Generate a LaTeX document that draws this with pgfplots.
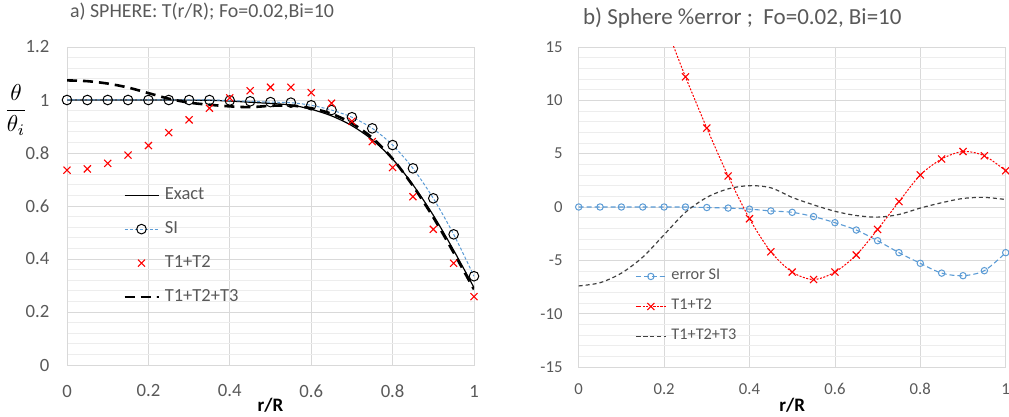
\documentclass[border=0pt]{standalone}
\usepackage{fontspec}
\setmainfont{Carlito}
\usepackage{graphicx}
\usepackage{pgfplots}
\usepackage{pgfplotstable}
\pgfplotsset{compat=1.18}

\definecolor{txtgray}{HTML}{595959}
\definecolor{majgrid}{HTML}{D9D9D9}
\definecolor{mingrid}{HTML}{EDEDED}
\definecolor{siblue}{HTML}{5B9BD5}
\definecolor{t123gray}{HTML}{404040}

% a) theta/theta_i along r/R
\pgfplotstableread{
x     exact   si     t12    t123
0.00  1.000   1.000  0.735  1.074
0.05  1.000   1.000  0.740  1.071
0.10  1.000   1.000  0.761  1.062
0.15  1.000   1.000  0.792  1.047
0.20  1.000   1.000  0.828  1.026
0.25  1.000   1.000  0.877  1.005
0.30  0.9995  1.000  0.925  0.990
0.35  0.999   1.000  0.969  0.982
0.40  0.996   0.998  1.008  0.976
0.45  0.9915  0.995  1.035  0.973
0.50  0.987   0.992  1.048  0.978
0.55  0.981   0.990  1.048  0.979
0.60  0.965   0.980  1.028  0.969
0.65  0.940   0.962  0.988  0.948
0.70  0.903   0.935  0.920  0.912
0.75  0.850   0.893  0.843  0.857
0.80  0.777   0.830  0.745  0.778
0.85  0.680   0.742  0.635  0.676
0.90  0.565   0.629  0.512  0.557
0.95  0.433   0.493  0.384  0.424
1.00  0.292   0.335  0.258  0.285
}\sphere

% b) percent error
\pgfplotstableread{
x     errsi   errt12  errt123
0.00   0.00   26.5   -7.4
0.05   0.00   26.0   -7.1
0.10   0.00   23.9   -6.2
0.15   0.00   20.8   -4.7
0.20   0.00   17.2   -2.6
0.25   0.00   12.2   -0.5
0.30  -0.05    7.4    0.9
0.35  -0.10    2.9    1.7
0.40  -0.20   -1.1    2.0
0.45  -0.37   -4.2    1.8
0.50  -0.50   -6.1    0.9
0.55  -0.90   -6.8    0.2
0.60  -1.47   -6.1   -0.4
0.65  -2.16   -4.5   -0.8
0.70  -3.16   -2.1   -0.95
0.75  -4.28    0.5   -0.7
0.80  -5.28    3.0   -0.1
0.85  -6.20    4.5    0.4
0.90  -6.44    5.2    0.8
0.95  -5.97    4.8    0.9
1.00  -4.28    3.4    0.7
}\errors

\pgfplotsset{
  excel/.style={
    scale only axis,
    xmin=0, xmax=1,
    xtick={0,0.2,0.4,0.6,0.8,1},
    xticklabels={0,0.2,0.4,0.6,0.8,1},
    grid=both,
    minor x tick num=0,
    minor y tick num=4,
    major grid style={draw=majgrid, line width=0.8pt},
    minor grid style={draw=mingrid, line width=0.8pt},
    axis line style={draw=majgrid, line width=0.8pt},
    major tick length=0pt, minor tick length=0pt,
    tick label style={text=txtgray},
    yticklabel style={anchor=east, inner sep=0pt},
    xticklabel style={anchor=center},
    legend cell align=left,
    title style={text=txtgray, anchor=base west, inner sep=0pt},
    xlabel style={font=\fontsize{19}{22}\selectfont\bfseries, anchor=center},
  }
}

\begin{document}
\begin{tikzpicture}
\path[use as bounding box] (0pt,0pt) rectangle (1009pt,417pt);

\begin{axis}[excel,
  at={(67pt,52pt)}, anchor=south west,
  width=407pt, height=318pt,
  ymin=0, ymax=1.2,
  ytick={0,0.2,0.4,0.6,0.8,1,1.2},
  yticklabels={0,0.2,0.4,0.6,0.8,1,1.2},
  tick label style={font=\fontsize{18.7}{21}\selectfont},
  yticklabel style={xshift=-17.5pt},
  xticklabel style={yshift=-26pt},
  title={a) SPHERE: T(r/R); Fo=0.02,Bi=10},
  title style={font=\fontsize{19.9}{23}\selectfont, at={(rel axis cs:0.007,1.073)}},
  xlabel={r/R},
  xlabel style={at={(rel axis cs:0.5,-0.126)}},
  ylabel={\scalebox{2.3}{$\displaystyle\frac{\theta}{\theta_i}$}},
  every axis y label/.style={at={(rel axis cs:-0.125,0.802)}, anchor=center},
  legend image code/.code={\draw[mark repeat=2,mark phase=2,#1] plot coordinates {(0pt,0pt) (17pt,0pt) (34pt,0pt)};},
  legend style={draw=none, fill=none, at={(0.1376,0.560)}, anchor=north west,
    font=\fontsize{18.5}{21}\selectfont, text=txtgray, inner sep=0pt,
    row sep=18pt, column sep=5pt,
    nodes={inner sep=0pt, text height=12pt, text depth=4pt}},
]
\addplot[black, line width=1.2pt, smooth, no marks] table[x=x, y=exact] {\sphere};
\addplot[siblue, line width=1pt, dash pattern=on 3pt off 2pt, smooth,
  mark=o, mark size=4.8pt, mark options={black, solid, line width=1pt, fill=none}] table[x=x, y=si] {\sphere};
\addplot[red, only marks, mark=x, mark size=5pt, mark options={line width=1.1pt}] table[x=x, y=t12] {\sphere};
\addplot[black, line width=2.6pt, dash pattern=on 10pt off 6pt, smooth, no marks] table[x=x, y=t123] {\sphere};
\legend{Exact, SI, T1+T2, T1+T2+T3}
\end{axis}

\begin{axis}[excel,
  at={(578.7pt,50pt)}, anchor=south west,
  width=427pt, height=320pt,
  ymin=-15, ymax=15,
  ytick={-15,-10,-5,0,5,10,15},
  yticklabels={-15,-10,-5,0,5,10,15},
  tick label style={font=\fontsize{16.7}{19}\selectfont},
  yticklabel style={xshift=-16pt},
  xticklabel style={yshift=-22pt},
  title={b) Sphere \%error ;~ Fo=0.02, Bi=10},
  title style={font=\fontsize{23}{27}\selectfont, at={(rel axis cs:0.01,1.050)}},
  xlabel={r/R},
  xlabel style={at={(rel axis cs:0.5,-0.119)}},
  legend image code/.code={\draw[mark repeat=2,mark phase=2,#1] plot coordinates {(0pt,0pt) (15pt,0pt) (30pt,0pt)};},
  legend style={draw=none, fill=none, at={(0.132,0.307)}, anchor=north west,
    font=\fontsize{16.3}{19}\selectfont, text=txtgray, inner sep=0pt,
    row sep=15pt, column sep=5pt,
    nodes={inner sep=0pt, text height=11pt, text depth=4pt}},
]
\addplot[siblue, line width=1.1pt, dash pattern=on 5pt off 3pt, smooth,
  mark=o, mark size=3.2pt, mark options={solid, fill=white, line width=1pt}] table[x=x, y=errsi] {\errors};
\addplot[red, line width=1pt, dash pattern=on 2pt off 1.5pt, smooth,
  mark=x, mark size=5pt, mark options={solid, line width=1.1pt}] table[x=x, y=errt12] {\errors};
\addplot[t123gray, line width=1.2pt, dash pattern=on 4pt off 3pt, smooth, no marks] table[x=x, y=errt123] {\errors};
\legend{error SI, T1+T2, T1+T2+T3}
\end{axis}
\end{tikzpicture}
\end{document}
